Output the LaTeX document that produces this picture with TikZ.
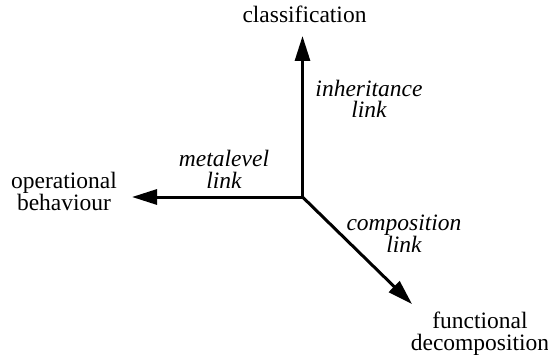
\documentclass[tikz,border=0pt]{standalone}
\usepackage{fontspec}
\setmainfont{Liberation Serif}
\usetikzlibrary{arrows.meta}
\begin{document}
\begin{tikzpicture}[x=1pt,y=-1pt,
  axis/.style={line width=3pt,-{Triangle[length=25pt,width=15pt]}},
  lbl/.style={font=\fontsize{23.5}{21.5}\selectfont,align=center,inner sep=0pt,anchor=base},
  ilbl/.style={lbl,font=\fontsize{23.5}{21.5}\selectfont\itshape}]
\useasboundingbox (0,0) rectangle (548,358);
\coordinate (o) at (302.5,197);
\coordinate (up) at (302.5,36);
\coordinate (left) at (132,197);
\coordinate (dr) at (412,304);
\draw[axis] (o) -- (up);
\draw[axis] (o) -- (left);
\draw[axis] (o) -- (dr);
\node[lbl] (cls) at (304.5,23) {classification};
\node[ilbl] (inh) at (369,118) {inheritance\\link};
\node[ilbl] (meta) at (224,188) {metalevel\\link};
\node[lbl] (op) at (64,210) {operational\\behaviour};
\node[ilbl] (comp) at (404,252) {composition\\link};
\node[lbl] (fun) at (480,350) {functional\\decomposition};
\end{tikzpicture}
\end{document}
